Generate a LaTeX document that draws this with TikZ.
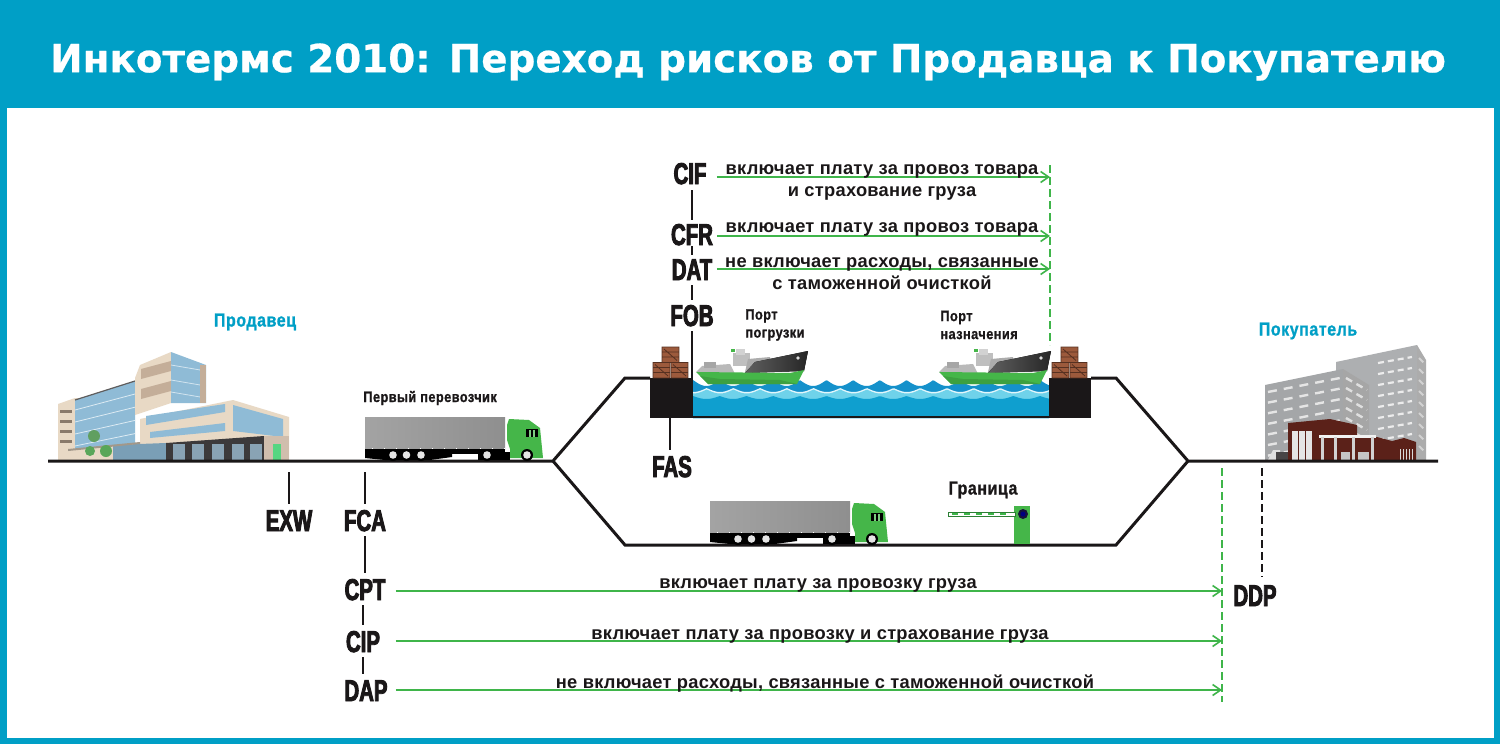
\documentclass[tikz,border=0pt]{standalone}
\usepackage{fontspec}
\setmainfont{Liberation Sans}
\newfontfamily\titlefont[FakeBold=0.6]{DejaVu Sans Bold}
\newfontfamily\labfont[FakeStretch=0.68,FakeBold=3]{Liberation Sans Bold}
\newfontfamily\smallfont[FakeStretch=0.85,LetterSpace=3,FakeBold=1]{Liberation Sans Bold}
\newfontfamily\bodyfont[LetterSpace=1.5]{Liberation Sans Bold}
\usetikzlibrary{arrows.meta,calc}
\definecolor{teal}{HTML}{009FC6}
\definecolor{grn}{HTML}{3FB54A}
\definecolor{trk}{HTML}{45B649}
\definecolor{ink}{HTML}{1A1718}
\definecolor{wat}{HTML}{0F9FCF}
\definecolor{wat2}{HTML}{1591CB}
\definecolor{wat3}{HTML}{6FD2EA}
\definecolor{crate}{HTML}{9C5A3C}
\definecolor{beige}{HTML}{E8D9C5}
\definecolor{tan}{HTML}{C4AE99}
\definecolor{glass}{HTML}{8FBBD6}
\definecolor{brk}{HTML}{5B2119}
\definecolor{gbl}{HTML}{A4A6A8}
\tikzset{
 termlabel/.style={font=\labfont\fontsize{15}{15}\selectfont,text=ink,inner xsep=5pt,inner ysep=2.5pt,text height=11pt,text depth=0pt},
 bodytext/.style={font=\bodyfont\fontsize{9.15}{11}\selectfont,text=ink,align=center,inner sep=0pt},
 smalltext/.style={font=\smallfont\fontsize{7.5}{9}\selectfont,text=ink,align=left,inner sep=0pt},
 partytext/.style={font=\smallfont\fontsize{9.4}{11}\selectfont,text=teal,inner sep=0pt},
 road/.style={draw=ink,line width=1.5pt,line join=miter},
 tick/.style={draw=ink,line width=.75pt},
 dashtick/.style={draw=ink,line width=.75pt,dash pattern=on 4pt off 2pt},
 grndash/.style={draw=grn,line width=.75pt,dash pattern=on 4pt off 2pt},
 grnarrow/.style={draw=grn,line width=.8pt,-{Straight Barb[length=4pt,width=5.5pt]}},
}
\newcommand{\lorry}[2]{%
 \begin{scope}[shift={(#1,#2)}]
  \fill[left color=gray!72,right color=gray!88] (365,417) rectangle (505,449);
  \fill[black] (365,449) rectangle (505,454);
  \fill[black] (365,454) -- (452,454) -- (452,457) -- (430,460) -- (385,460) -- (365,458) -- cycle;
  \foreach \tx in {372,384,...,504}{\fill[white] (\tx,448) rectangle (\tx+1,449);}
  \fill[black] (478,452) -- (510,452) -- (510,460) -- (478,460) -- cycle;
  \fill[trk] (509,419) -- (529,420) -- (540,428) -- (543,458) -- (510,458) -- (510,449) -- (507,440) -- (507,425) -- cycle;
  \fill[black] (526,429) rectangle (538,437);
  \fill[trk!70] (529,430) rectangle (530.5,437);
  \fill[trk!70] (533,430) rectangle (534.5,437);
  \foreach \wx in {393,406.5,421,487,527}{
   \fill[black] (\wx,455) circle[radius=6];
   \fill[gray!20] (\wx,455) circle[radius=3.8];
  }
 \end{scope}}
\newcommand{\ship}[1]{%
 \begin{scope}[shift={(#1,0)}]
  \fill[gray!55] (696,372) -- (702,366) -- (730,364) -- (735,374) -- cycle;
  \fill[gray!70] (704,362) rectangle (716,368);
  \fill[gray!50] (733,353) rectangle (750,366);
  \fill[gray!35] (736,349) rectangle (745,355);
  \fill[trk] (731,349) rectangle (735,352);
  \fill[gray!65] (748,359) -- (770,357) -- (770,372) -- (745,372) -- cycle;
  \fill[left color=gray!75!black,right color=black!85] (755,362) -- (808,351) -- (804,371) -- (745,373) -- cycle;
  \fill[gray!25] (798,358) circle[radius=1.8];
  \fill[trk] (696,372) -- (790,373) -- (804,370) -- (797,384) -- (708,384) -- cycle;
  \fill[trk!88!black] (700,376) -- (720,379) -- (780,380) -- (797,384) -- (708,384) -- cycle;
 \end{scope}}
\newcommand{\onecrate}[2]{%
 \fill[crate] (#1,#2) rectangle ++(17,15.5);
 \draw[crate!55!black,line width=.4pt] (#1,#2) rectangle ++(17,15.5) (#1,#2) ++(2,2) -- ++(13,11.5) (#1,#2) ++(0,5) -- ++(17,0) (#1,#2) ++(0,10) -- ++(17,0);
}
\begin{document}
\begin{tikzpicture}[x=.5pt,y=-.5pt]
\useasboundingbox (0,0) rectangle (1500,744);
\fill[teal] (0,0) rectangle (1500,744);
\fill[white] (7,108) rectangle (1494,738);
\node[font=\titlefont\fontsize{19.4}{24}\selectfont,text=white,inner sep=0pt] (title) at (748,62) {Инкотермс 2010: Переход рисков от Продавца к Покупателю};

% seller building
\fill[beige] (58,404) -- (75,398) -- (113,398) -- (113,461) -- (58,461) -- cycle;
\foreach \wy in {410,420,430,440}{\fill[tan!70!black] (60,\wy) rectangle (72,\wy+3);}
\fill[glass] (75,400) -- (135,381) -- (135,443) -- (75,449) -- cycle;
\draw[ink!70,line width=.6pt] (75,400) -- (135,381);
\foreach \wy in {0,12,24,36}{\draw[white!70!glass,line width=.4pt] (75,410+\wy) -- (135,394+\wy*1.1);}
\fill[beige] (135,378) -- (140,365) -- (171,352) -- (171,403) -- (135,415) -- cycle;
\foreach \wy in {365,385}{\fill[tan] (141,\wy+4) -- (171,\wy-4) -- (171,\wy+6) -- (141,\wy+14) -- cycle;}
\fill[glass] (171,352) -- (206,365) -- (206,403) -- (171,403) -- cycle;
\foreach \wy in {365,380,392}{\draw[white!60!glass,line width=.4pt] (171,\wy) -- (206,\wy+6);}
\fill[tan] (200,365) -- (206,365) -- (206,403) -- (200,403) -- cycle;
\fill[beige] (140,419) -- (233,400) -- (289,417) -- (289,461) -- (140,461) -- cycle;
\fill[glass] (146,416) -- (225,404) -- (225,412) -- (146,425) -- cycle;
\fill[glass] (150,432) -- (225,423) -- (225,431) -- (150,438) -- cycle;
\fill[glass] (233,405) -- (283,419) -- (283,437) -- (233,431) -- cycle;
\fill[beige] (58,449) rectangle (113,461);
\fill[glass!85!black] (113,445) -- (166,443) -- (166,461) -- (113,461) -- cycle;
\fill[ink!85] (166,443) -- (264,436) -- (264,461) -- (166,461) -- cycle;
\foreach \wx in {173,192,212,232,250}{\fill[glass!60!gray] (\wx,444) rectangle (\wx+12,460);}
\fill[tan!80] (264,436) rectangle (289,461);
\fill[glass!60!green] (273,444) rectangle (281,460);
\fill[beige!70!black] (68,449) -- (140,442) -- (140,444) -- (68,451) -- cycle;
\fill[green!25!gray] (94,436) circle[radius=6];
\fill[green!30!gray] (106,451) circle[radius=6];
\fill[green!30!gray] (90,451) circle[radius=5];

% buyer building
\fill[gbl!90] (1336,362) -- (1417,345) -- (1417,460) -- (1336,460) -- cycle;
\fill[gray!65] (1417,345) -- (1426,360) -- (1426,460) -- (1417,460) -- cycle;
\foreach \wy in {0,1,...,8}{
 \draw[white!85!gray,line width=1.1pt,densely dashed] (1378,{363+\wy*11}) -- (1412,{357+\wy*11});
 \draw[gray!35,line width=1pt,densely dashed] (1419,{358+\wy*11}) -- (1425,{364+\wy*11});}
\fill[gbl] (1265,385) -- (1343,369) -- (1343,460) -- (1265,460) -- cycle;
\fill[gray!70] (1343,369) -- (1369,385) -- (1369,440) -- (1343,440) -- cycle;
\foreach \wy in {0,1,...,6}{
 \draw[white!80!gray,line width=1.2pt,dash pattern=on 4.5pt off 3.5pt] (1268,{392+\wy*10.6}) -- (1340,{378+\wy*10.6});
 \draw[gray!25,line width=1.2pt,dash pattern=on 3.5pt off 2.5pt] (1346,{378+\wy*10}) -- (1367,{390+\wy*10});}
\fill[brk] (1288,423) -- (1330,419) -- (1357,425) -- (1357,437) -- (1377,437) -- (1392,441) -- (1404,438) -- (1416,442) -- (1416,460) -- (1288,460) -- cycle;
\fill[gray!20] (1292,431) rectangle (1312,460);
\foreach \wx in {1298,1305}{\draw[brk,line width=.4pt] (\wx,431) -- (\wx,460);}
\fill[white!90!gray] (1319,435) rectangle (1376,437.5);
\foreach \wx in {1322,1335,1353,1372}{\fill[gray!35] (\wx-1.5,437) rectangle (\wx+1.5,460);}
\fill[gray!45] (1341,452) rectangle (1350,460);
\fill[gray!45] (1358,452) rectangle (1369,460);
\foreach \wx in {1400,1403,1406,1409,1412}{\fill[gray!30] (\wx,449) rectangle (\wx+1.3,460);}
\fill[gray!25] (1268,460) -- (1273,450) -- (1280,450) -- (1280,460) -- cycle;
\fill[ink!80] (1276,452) rectangle (1288,460);

% water
\fill[wat2] plot[domain=693:1049,samples=240] (\x,{386-6*(1-abs(sin(6.742*(\x-693))))}) -- (1049,418) -- (693,418) -- cycle;
\fill[white!80!wat3] plot[domain=693:1049,samples=240] (\x,{392-4*(1-abs(sin(6.742*(\x-680))))}) -- (1049,418) -- (693,418) -- cycle;
\fill[wat3] plot[domain=693:1049,samples=240] (\x,{393.5-4*(1-abs(sin(6.742*(\x-680))))}) -- (1049,418) -- (693,418) -- cycle;
\fill[wat] plot[domain=693:1049,samples=240] (\x,{396+3*abs(sin(6.742*(\x-693)))}) -- (1049,418) -- (693,418) -- cycle;

\ship{0}
\ship{243}

% roads and quays
\fill[ink] (650,378) rectangle (693,418);
\fill[ink] (1049,378) rectangle (1091,418);
\fill[ink] (693,415.5) rectangle (1049,418);
\draw[road] (48,461) -- (553,461) -- (625,378) -- (650,378);
\draw[road] (1091,378) -- (1116,378) -- (1188,461) -- (1438,461);
\draw[road] (553,461) -- (625,545) -- (1116,545) -- (1188,461);

% crates
\onecrate{662}{347}\onecrate{653}{362.5}\onecrate{671}{362.5}
\onecrate{1061}{347}\onecrate{1052}{362.5}\onecrate{1070}{362.5}

% lorries
\lorry{0}{0}
\lorry{345}{84}

% barrier
\fill[trk] (1014,506) rectangle (1030,544);
\draw[grn!70!black,fill=white,line width=.4pt] (948,512) rectangle (1015,516);
\foreach \bx in {952,964,...,1006}{\fill[grn] (\bx,513) rectangle (\bx+6,515);}
\fill[ink!85!blue] (1023,514) circle[radius=5];
\fill[blue!50!black] (1023,514) circle[radius=2.5];

% labels
\node[termlabel] (cif) at (690,173) {CIF};
\node[termlabel] (cfr) at (692,234) {CFR};
\node[termlabel] (dat) at (692,269) {DAT};
\node[termlabel] (fob) at (692,315) {FOB};
\node[termlabel] (fas) at (672,466) {FAS};
\node[termlabel] (exw) at (289,520) {EXW};
\node[termlabel] (fca) at (365,520) {FCA};
\node[termlabel] (cpt) at (365,589) {CPT};
\node[termlabel] (cip) at (363,641) {CIP};
\node[termlabel] (dap) at (366,690) {DAP};
\node[termlabel] (ddp) at (1255,595) {DDP};

\coordinate (fobfoot) at (692,378);
\coordinate (fasq) at (670,418);
\coordinate (exwg) at (289,472);
\coordinate (fcag) at (365,472);
\coordinate (ddpg) at (1262,468);
\coordinate (ddpb) at (1262,577);
\draw[tick] (692,190) -- (692,220);
\draw[tick] (692,246) -- (692,255);
\draw[tick] (692,285) -- (692,300);
\draw[tick] (fob.south -| fobfoot) -- (fobfoot);
\draw[tick] (fasq) -- (fasq |- fas.north);
\draw[tick] (exwg) -- (exw.north);
\draw[tick] (fcag) -- (fca.north);
\draw[tick] (fca.south) -- (cpt.north);
\draw[tick] (cpt.south -| cip.north) -- (cip.north);
\draw[tick] (cip.south) -- (cip.south |- dap.north);
\draw[dashtick] (ddpg) -- (ddpb);

% green lines
\coordinate (gt) at (1050,165);
\coordinate (gm) at (1050,345);
\coordinate (gu) at (1222,468);
\coordinate (gd) at (1222,702);
\draw[grndash] (gt) -- (gm);
\draw[grndash] (gu) -- (gd);
\coordinate (a1) at (1050,177);
\coordinate (a2) at (1050,236);
\coordinate (a3) at (1050,269);
\coordinate (a4) at (1222,591);
\coordinate (a5) at (1222,641);
\coordinate (a6) at (1222,690);
\draw[grnarrow] (cif.east |- a1) -- (a1);
\draw[grnarrow] (cif.east |- a2) -- (a2);
\draw[grnarrow] (cif.east |- a3) -- (a3);
\draw[grnarrow] (cpt.east |- a4) -- (a4);
\draw[grnarrow] (cpt.east |- a5) -- (a5);
\draw[grnarrow] (cpt.east |- a6) -- (a6);

\node[bodytext] (t1) at (882,182) {включает плату за провоз товара\\и страхование груза};
\node[bodytext] (t2) at (882,229) {включает плату за провоз товара};
\node[bodytext] (t3) at (882,274) {не включает расходы, связанные\\с таможенной очисткой};
\node[bodytext] (t4) at (818,585) {включает плату за провозку груза};
\node[bodytext] (t5) at (820,636) {включает плату за провозку и страхование груза};
\node[bodytext] (t6) at (825,684) {не включает расходы, связанные с таможенной очисткой};

\node[smalltext,anchor=west] (p1) at (745,325) {Порт\\погрузки};
\node[smalltext,anchor=west] (p2) at (940,325) {Порт\\назначения};
\node[smalltext,anchor=west] (carrier) at (363,398) {Первый перевозчик};
\node[partytext] (seller) at (255,322) {Продавец};
\node[partytext] (buyer) at (1308,331) {Покупатель};
\node[font=\smallfont\fontsize{9.4}{11}\selectfont,text=ink,inner sep=0pt] (border) at (983,490) {Граница};
\end{tikzpicture}
\end{document}
